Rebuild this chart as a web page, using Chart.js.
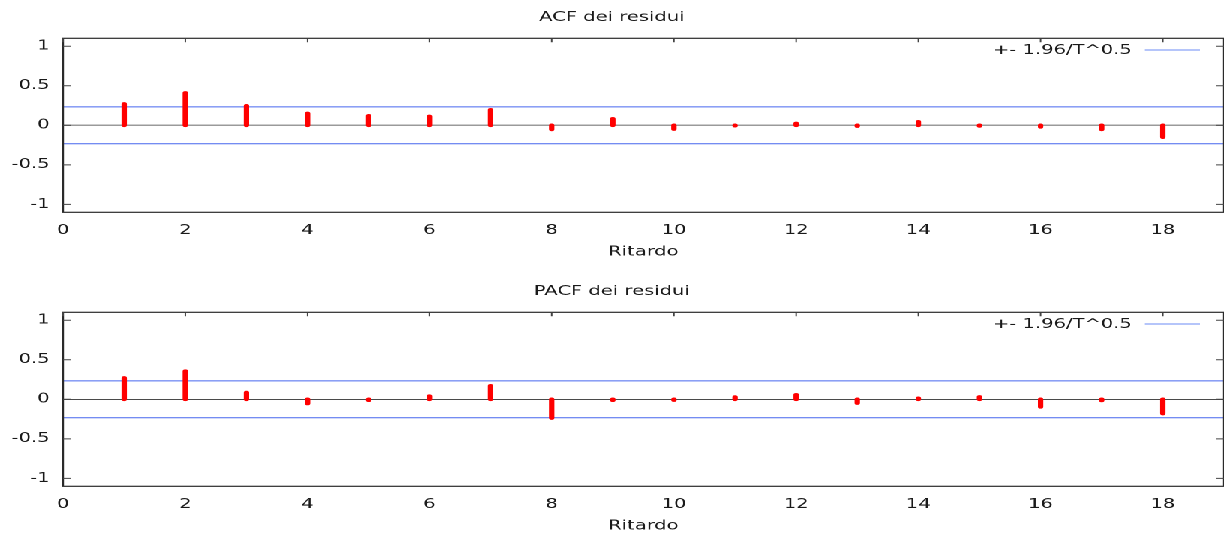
<!DOCTYPE html>
<html>
<head>
<meta charset="utf-8">
<script src="https://cdn.jsdelivr.net/npm/chart.js@4/dist/chart.umd.min.js"></script>
<style>
  html, body { margin: 0; padding: 0; background: #fff; overflow: hidden; }
  /* il grafico originale e' stirato in orizzontale */
  #wrap { width: 816px; transform: scaleX(1.5); transform-origin: 0 0; }
  canvas { display: block; }
</style>
</head>
<body>
<div id="wrap">
  <canvas id="acf" width="816" height="274"></canvas>
  <canvas id="pacf" width="816" height="274"></canvas>
</div>
<script>
// dati
const lags = [1, 2, 3, 4, 5, 6, 7, 8, 9, 10, 11, 12, 13, 14, 15, 16, 17, 18];
const acfValues = [0.27, 0.41, 0.247, 0.15, 0.12, 0.113, 0.196, -0.052, 0.082, -0.048,
                   -0.005, 0.024, -0.01, 0.045, -0.008, -0.02, -0.052, -0.15];
const pacfValues = [0.27, 0.356, 0.086, -0.053, -0.012, 0.04, 0.17, -0.237, -0.012, -0.01,
                    0.028, 0.057, -0.048, 0.012, 0.03, -0.095, -0.015, -0.18];
const bandValue = 0.233;
const bandLabel = "+- 1.96/T^0.5";
const xTicks = [0, 2, 4, 6, 8, 10, 12, 14, 16, 18];
const yTicks = [-1, -0.5, 0, 0.5, 1];
const xMax = 19;
const yMin = -1.1, yMax = 1.1;

const textColor = "#1a1a1a";
const blue = "#4666ee";

Chart.defaults.font.family = "'DejaVu Sans', sans-serif";
Chart.defaults.font.size = 13;
Chart.defaults.color = textColor;

// trasforma i valori in segmenti verticali separati da un buco
function stemPoints(values) {
    const pts = [];
    lags.forEach((lag, i) => {
        pts.push({ x: lag, y: 0 }, { x: lag, y: values[i] }, { x: lag, y: null });
    });
    return pts;
}

// cornice, tacche interne e legenda come nel grafico di gnuplot
const framePlugin = {
    id: "frame",
    afterDraw(chart) {
        const { ctx, chartArea: a, scales: { x, y } } = chart;
        ctx.save();
        ctx.strokeStyle = "#2a2a2a";
        ctx.lineWidth = 1.2;
        ctx.strokeRect(a.left, a.top, a.right - a.left, a.bottom - a.top);

        ctx.strokeStyle = "#444";
        ctx.lineWidth = 1;
        ctx.beginPath();
        yTicks.forEach(v => {
            const py = y.getPixelForValue(v);
            ctx.moveTo(a.left, py); ctx.lineTo(a.left + 5.5, py);
            ctx.moveTo(a.right, py); ctx.lineTo(a.right - 5, py);
        });
        xTicks.forEach(v => {
            const px = x.getPixelForValue(v);
            ctx.moveTo(px, a.top); ctx.lineTo(px, a.top + 4);
        });
        ctx.stroke();

        // legenda dentro l'area del grafico, in alto a destra
        const label = chart.data.datasets[0].label;
        ctx.fillStyle = textColor;
        ctx.font = "13px 'DejaVu Sans'";
        ctx.textAlign = "right";
        ctx.textBaseline = "middle";
        ctx.fillText(label, a.right - 61.3, a.top + 12.5);
        ctx.strokeStyle = "#6b8af5";
        ctx.beginPath();
        ctx.moveTo(a.right - 52.7, a.top + 11.7);
        ctx.lineTo(a.right - 16, a.top + 11.7);
        ctx.stroke();
        ctx.restore();
    }
};

function drawCorrelogram(canvasId, title, values, zeroColor, zeroWidth) {
    const context = document.getElementById(canvasId).getContext("2d");
    return new Chart(context, {
        type: "line",
        data: {
            datasets: [
                {
                    label: bandLabel,
                    data: [{ x: 0, y: bandValue }, { x: xMax, y: bandValue }],
                    borderColor: blue, borderWidth: 1, pointRadius: 0, order: 1
                },
                {
                    label: "",
                    data: [{ x: 0, y: -bandValue }, { x: xMax, y: -bandValue }],
                    borderColor: blue, borderWidth: 1, pointRadius: 0, order: 1
                },
                {
                    label: title,
                    data: stemPoints(values),
                    borderColor: "#ff0000",
                    borderWidth: 3.6,
                    borderCapStyle: "round",
                    borderJoinStyle: "round",
                    pointRadius: 0,
                    spanGaps: false,
                    order: 0
                }
            ]
        },
        options: {
            responsive: false,
            animation: false,
            devicePixelRatio: 2,
            events: [],
            layout: { padding: 0 },
            plugins: {
                legend: { display: false },
                tooltip: { enabled: false },
                title: {
                    display: true,
                    text: title,
                    color: textColor,
                    font: { size: 13, weight: "normal" },
                    padding: { top: 9.8, bottom: 12.9 }
                }
            },
            scales: {
                x: {
                    type: "linear",
                    min: 0,
                    max: xMax,
                    afterBuildTicks: s => { s.ticks = xTicks.map(v => ({ value: v })); },
                    afterFit: s => { s.height = 61.7; },
                    grid: { display: false, drawTicks: false },
                    border: { display: false },
                    ticks: { padding: 10.5, maxRotation: 0, color: textColor, callback: v => String(v) },
                    title: {
                        display: true,
                        text: "Ritardo",
                        color: textColor,
                        font: { size: 13 },
                        padding: { top: 0, bottom: 13.9 }
                    }
                },
                y: {
                    type: "linear",
                    min: yMin,
                    max: yMax,
                    afterBuildTicks: s => { s.ticks = yTicks.map(v => ({ value: v })); },
                    afterFit: s => { s.width = 42; },
                    grid: {
                        drawTicks: false,
                        color: c => (c.tick && c.tick.value === 0 ? zeroColor : "transparent"),
                        lineWidth: zeroWidth
                    },
                    border: { display: false },
                    ticks: { padding: 9, color: textColor, callback: v => String(v) }
                }
            }
        },
        plugins: [framePlugin]
    });
}

drawCorrelogram("acf", "ACF dei residui", acfValues, "#9a9a9a", 1.5);
drawCorrelogram("pacf", "PACF dei residui", pacfValues, "#4a4a4a", 1);
</script>
</body>
</html>
